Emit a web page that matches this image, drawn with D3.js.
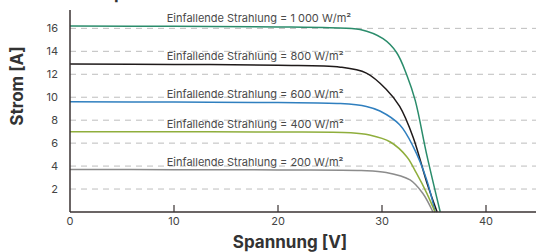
<!DOCTYPE html>
<html>
<head>
<meta charset="utf-8">
<script src="https://cdn.jsdelivr.net/npm/d3@7"></script>
<style>
  body { margin: 0; background: #fff; }
  text { font-family: Inter, "Noto Sans", sans-serif; }
</style>
</head>
<body>
<div id="chart"></div>
<script>
// irradiance levels (W/m²) and their I-U curves, [Spannung V, Strom A]
var irradiance = [1000, 800, 600, 400, 200];
var labels = ["1 000", "800", "600", "400", "200"];
var curve1000 = [[0,16.2],[10,16.18],[20,16.12],[25,16.05],[27.9,15.9],[30.1,15.1],[31.4,13.9],[32.4,11.9],[33.2,9.7],[34.3,5.0],[35.6,0]];
var curve800 = [[0,12.9],[10,12.86],[20,12.78],[26,12.62],[28.5,12.1],[30.4,10.7],[31.7,9.2],[33.0,6.5],[34.3,2.6],[35.3,0]];
var curve600 = [[0,9.6],[10,9.58],[20,9.54],[26,9.45],[28.5,9.2],[29.8,8.8],[31.7,7.6],[33.0,5.7],[34.3,2.8],[35.1,0]];
var curve400 = [[0,7.0],[10,6.99],[20,6.97],[27,6.9],[28.8,6.7],[30.8,6.1],[32.4,4.8],[33.3,3.4],[34.3,1.65],[35.1,0]];
var curve200 = [[0,3.7],[10,3.69],[20,3.67],[28,3.62],[30.4,3.45],[32.7,2.8],[33.9,1.65],[34.9,0]];
var curves = [curve1000, curve800, curve600, curve400, curve200];
var colors = ["#2a8c6b", "#1f1a1a", "#2f7fbf", "#8fae3c", "#8c8c8c"];
var yTicks = [2, 4, 6, 8, 10, 12, 14, 16];
var xTicks = [0, 10, 20, 30, 40];

var width = 536, height = 252;
var svg = d3.select("#chart").append("svg")
    .attr("width", width)
    .attr("height", height);

var x = d3.scaleLinear().domain([0, 45]).range([70, 538]);
var y = d3.scaleLinear().domain([0, 17.6]).range([212, 10]);

// cut-off title remnant at the very top
svg.append("text")
    .attr("x", 114).attr("y", -1)
    .attr("font-size", 17).attr("font-weight", 700)
    .attr("fill", "#333")
    .text("p");

// dashed grid
svg.append("g").selectAll("line")
    .data(yTicks)
    .join("line")
    .attr("x1", x(0)).attr("x2", width)
    .attr("y1", d => y(d)).attr("y2", d => y(d))
    .attr("stroke", "#bdbdbd")
    .attr("stroke-width", 1)
    .attr("stroke-dasharray", "6,5");

// y labels
svg.append("g").selectAll("text")
    .data(yTicks)
    .join("text")
    .attr("x", 58).attr("y", d => y(d))
    .attr("dy", "0.35em")
    .attr("text-anchor", "end")
    .attr("font-size", 11)
    .attr("fill", "#444")
    .text(d => d);

// curves
var line = d3.line()
    .x(d => x(d[0]))
    .y(d => y(d[1]))
    .curve(d3.curveCatmullRom.alpha(0.5));

svg.append("g").selectAll("path")
    .data(curves)
    .join("path")
    .attr("d", line)
    .attr("fill", "none")
    .attr("stroke", (d, i) => colors[i])
    .attr("stroke-width", 1.5);

// curve labels
svg.append("g").selectAll("text")
    .data(curves)
    .join("text")
    .attr("x", x(9.3))
    .attr("y", d => y(d[0][1]) - 4)
    .attr("font-size", 11)
    .attr("fill", "#4a4a4a")
    .text((d, i) => "Einfallende Strahlung = " + labels[i] + " W/m²");

// axes
var xAxis = svg.append("g");
xAxis.append("line")
    .attr("x1", x(0)).attr("x2", width)
    .attr("y1", y(0)).attr("y2", y(0))
    .attr("stroke", "#3a3232").attr("stroke-width", 1.5);
xAxis.selectAll(".tick")
    .data(xTicks.slice(1))
    .join("line")
    .attr("x1", d => x(d)).attr("x2", d => x(d))
    .attr("y1", y(0)).attr("y2", y(0) - 7)
    .attr("stroke", "#3a3232").attr("stroke-width", 1.2);
xAxis.selectAll("text")
    .data(xTicks)
    .join("text")
    .attr("x", d => x(d)).attr("y", 225)
    .attr("text-anchor", "middle")
    .attr("font-size", 11)
    .attr("fill", "#444")
    .text(d => d);

svg.append("line")
    .attr("x1", x(0)).attr("x2", x(0))
    .attr("y1", y(0)).attr("y2", y(17.6))
    .attr("stroke", "#3a3232").attr("stroke-width", 1.5);

// axis titles
svg.append("text")
    .attr("x", 290).attr("y", 248)
    .attr("text-anchor", "middle")
    .attr("font-size", 17).attr("font-weight", 700)
    .attr("fill", "#333")
    .text("Spannung [V]");

svg.append("text")
    .attr("transform", "translate(23,86) rotate(-90)")
    .attr("text-anchor", "middle")
    .attr("font-size", 17).attr("font-weight", 700)
    .attr("fill", "#333")
    .text("Strom [A]");
</script>
</body>
</html>
